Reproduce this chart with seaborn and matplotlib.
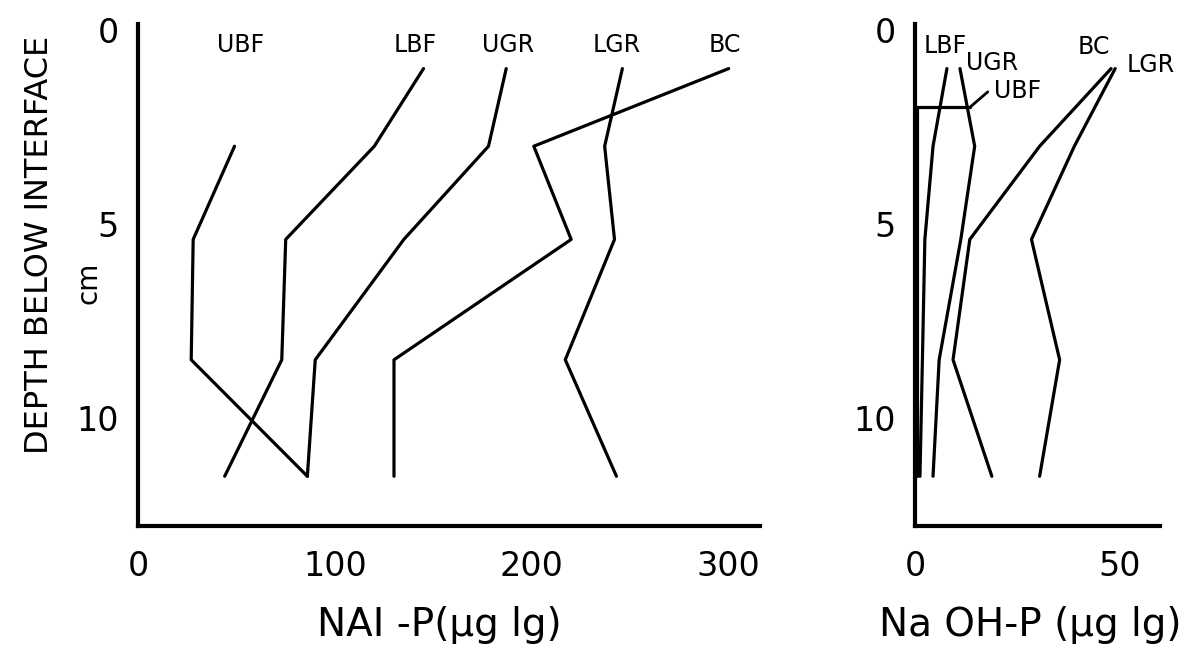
import pandas as pd
import matplotlib
matplotlib.use("Agg")
import matplotlib.pyplot as plt
import seaborn as sns

# ---- data: depth below interface (cm) for each sampled layer
depth = [1, 3, 5.4, 8.5, 11.5]

# NAI-P (ug/g), left panel
nai_ubf = [49, 28, 27, 86]          # no value in the top layer
nai_lbf = [145, 120, 75, 73, 44]
nai_ugr = [187, 178, 135, 90, 86]
nai_lgr = [246, 237, 242, 217, 243]
nai_bc = [300, 201, 220, 130, 130]

# NaOH-P (ug/g), right panel
naoh_lbf = [7.8, 4.4, 2.4, 1.8, 1.2]
naoh_ugr = [11, 14.6, 11.2, 5.9, 4.4]
naoh_lgr = [49, 39, 28.5, 35.4, 30.5]
naoh_bc = [48, 30.5, 13.4, 9.3, 18.8]
naoh_ubf_x = [13.4, 0.4, 0.4]
naoh_ubf_depth = [2.0, 2.0, 11.5]

series_names = ["UBF", "LBF", "UGR", "LGR", "BC"]


def long_form(values, depths, name):
    return pd.DataFrame({"value": values, "depth": depths, "core": name})


nai = pd.concat([
    long_form(nai_ubf, depth[1:], "UBF"),
    long_form(nai_lbf, depth, "LBF"),
    long_form(nai_ugr, depth, "UGR"),
    long_form(nai_lgr, depth, "LGR"),
    long_form(nai_bc, depth, "BC"),
])
naoh = pd.concat([
    long_form(naoh_ubf_x, naoh_ubf_depth, "UBF"),
    long_form(naoh_lbf, depth, "LBF"),
    long_form(naoh_ugr, depth, "UGR"),
    long_form(naoh_lgr, depth, "LGR"),
    long_form(naoh_bc, depth, "BC"),
])

sns.set_style("white")
plt.rcParams["font.family"] = ["DejaVu Sans"]
plt.rcParams["text.color"] = "black"
plt.rcParams["xtick.color"] = "black"
plt.rcParams["ytick.color"] = "black"
plt.rcParams["axes.labelcolor"] = "black"

fig = plt.figure(figsize=(11.85, 6.52), dpi=100)
ax1 = fig.add_axes([0.1165, 0.1933, 0.525, 0.770])
ax2 = fig.add_axes([0.7722, 0.1933, 0.2068, 0.770])

black = {n: "black" for n in series_names}
for ax, df in [(ax1, nai), (ax2, naoh)]:
    sns.lineplot(data=df, x="value", y="depth", hue="core", units="core",
                 estimator=None, sort=False, palette=black, linewidth=2.3,
                 legend=False, ax=ax)
    ax.set_ylim(12.78, -0.15)
    ax.set_yticks([0, 5, 10])
    ax.set_yticklabels(["0", "5", "10"])
    ax.set_xlabel("")
    ax.set_ylabel("")
    for side in ["top", "right"]:
        ax.spines[side].set_visible(False)
    for side in ["left", "bottom"]:
        ax.spines[side].set_linewidth(3)
        ax.spines[side].set_color("black")
    ax.tick_params(axis="both", direction="out", length=9, width=1.5,
                   labelsize=24, color="black", labelcolor="black")
    ax.tick_params(axis="x", pad=8)
    ax.tick_params(axis="y", pad=5)

ax1.set_xlim(0, 316)
ax1.set_xticks([0, 100, 200, 300])
ax2.set_xlim(0, 60)
ax2.set_xticks([0, 50])

# curve labels
lab_kw = dict(ha="center", va="center", fontsize=17, color="black")
for name, x, y in [("UBF", 52, 0.4), ("LBF", 141, 0.4), ("UGR", 188, 0.4),
                   ("LGR", 243, 0.4), ("BC", 298, 0.4)]:
    ax1.text(x, y, name, **lab_kw)
for name, x, y in [("LBF", 7.3, 0.41), ("UGR", 18.8, 0.85), ("UBF", 25, 1.57),
                   ("BC", 43.7, 0.44), ("LGR", 57.6, 0.9)]:
    ax2.text(x, y, name, **lab_kw)
ax2.plot([17.8, 13.4], [1.6, 2.0], color="black", linewidth=2)

# axis titles
fig.text(0.033, 0.624, "DEPTH BELOW INTERFACE", rotation=90, ha="center",
         va="center", fontsize=23)
fig.text(0.075, 0.567, "cm", rotation=90, ha="center", va="center", fontsize=20)
fig.text(0.371, 0.041, "NAI -P(μg lg)", ha="center", va="center", fontsize=28)
fig.text(0.869, 0.041, "Na OH-P (μg lg)", ha="center", va="center", fontsize=28)

fig.savefig("out.png", dpi=100)
